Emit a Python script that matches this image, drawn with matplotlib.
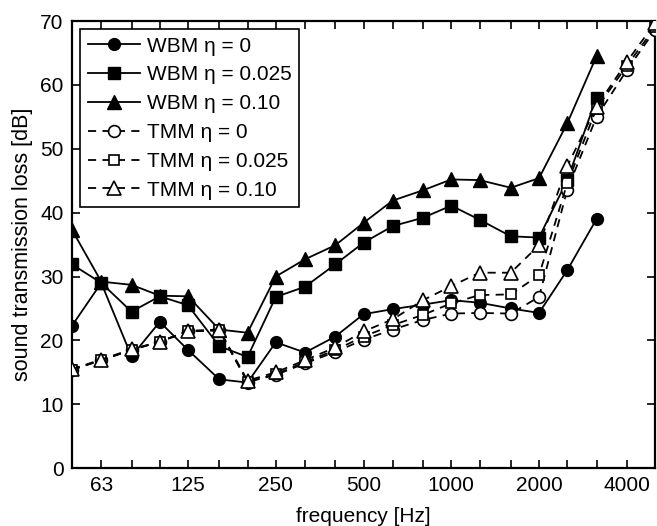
import matplotlib
matplotlib.use("Agg")
import matplotlib.pyplot as plt

plt.rcParams['font.family'] = ['Liberation Sans', 'DejaVu Sans']

freq = [50, 63, 80, 100, 125, 160, 200, 250, 315, 400, 500, 630, 800,
        1000, 1250, 1600, 2000, 2500, 3150, 4000, 5000]
tick_labels = {63: "63", 125: "125", 250: "250", 500: "500",
               1000: "1000", 2000: "2000", 4000: "4000"}

wbm_0 = [22.3, 29.0, 17.5, 22.9, 18.5, 13.9, 13.4, 19.7, 18.1, 20.6,
         24.1, 24.9, 25.6, 26.3, 25.9, 25.0, 24.3, 31.0, 39.0]
wbm_025 = [31.9, 29.0, 24.5, 26.9, 25.5, 19.1, 17.4, 26.8, 28.4, 31.9,
           35.3, 37.9, 39.2, 41.1, 38.9, 36.3, 36.1, 45.1, 58.0]
wbm_10 = [37.3, 29.2, 28.7, 27.0, 26.9, 21.7, 21.2, 30.0, 32.7, 34.9,
          38.4, 41.9, 43.5, 45.2, 45.1, 43.9, 45.4, 54.0, 64.5]
tmm_0 = [15.4, 16.9, 18.5, 19.8, 21.4, 21.6, 13.5, 14.6, 16.4, 18.2,
         20.1, 21.7, 23.2, 24.2, 24.3, 24.2, 26.8, 43.6, 55.0, 62.3, 68.6]
tmm_025 = [15.4, 16.9, 18.5, 19.8, 21.4, 21.6, 13.5, 14.7, 16.6, 18.5,
           20.6, 22.4, 24.0, 25.8, 27.1, 27.2, 30.2, 44.6, 56.3, 63.0, 69.0]
tmm_10 = [15.5, 17.0, 18.6, 19.8, 21.5, 21.7, 13.7, 15.0, 16.9, 18.9,
          21.4, 23.3, 26.3, 28.5, 30.6, 30.6, 34.9, 47.3, 56.6, 63.6, 69.7]

fig = plt.figure(figsize=(6.57, 5.26), dpi=100)
ax = fig.add_axes([0.1096, 0.110, 0.8874, 0.850])

n = len(wbm_0)
ms = 8.5
lw = 1.3
dash = (0, (4.5, 3.5))
ax.plot(freq[:n], wbm_0, '-', color='k', lw=lw, marker='o', ms=ms,
        mfc='k', mec='k', label='WBM η = 0', zorder=3)
ax.plot(freq[:n], wbm_025, '-', color='k', lw=lw, marker='s', ms=ms - 0.5,
        mfc='k', mec='k', label='WBM η = 0.025', zorder=3)
ax.plot(freq[:n], wbm_10, '-', color='k', lw=lw, marker='^', ms=ms + 1,
        mfc='k', mec='k', label='WBM η = 0.10', zorder=3)
ax.plot(freq, tmm_0, linestyle=dash, color='k', lw=lw, marker='o', ms=ms,
        mfc='white', mec='k', mew=1.2, label='TMM η = 0', zorder=4)
ax.plot(freq, tmm_025, linestyle=dash, color='k', lw=lw, marker='s', ms=ms - 1,
        mfc='white', mec='k', mew=1.2, label='TMM η = 0.025', zorder=4)
ax.plot(freq, tmm_10, linestyle=dash, color='k', lw=lw, marker='^', ms=ms + 1,
        mfc='white', mec='k', mew=1.2, label='TMM η = 0.10', zorder=4)

ax.set_xscale('log')
ax.set_xlim(50, 5000)
ax.set_ylim(0, 70)
ax.set_xticks(freq[1:-1])
ax.set_xticklabels([tick_labels.get(f, "") for f in freq[1:-1]])
ax.minorticks_off()
ax.set_yticks(range(0, 71, 10))
ax.tick_params(direction='in', top=True, right=True, length=6, width=1.2,
               labelsize=15, pad=6)
for s in ax.spines.values():
    s.set_linewidth(1.6)
ax.set_xlabel('frequency [Hz]', fontsize=15, labelpad=8)
ax.set_ylabel('sound transmission loss [dB]', fontsize=15.5, labelpad=5)

leg = ax.legend(loc='upper left', fontsize=15, fancybox=False, framealpha=1,
                edgecolor='k', borderaxespad=0.4, handlelength=2.5,
                labelspacing=0.47, borderpad=0.35, handletextpad=0.35)
leg.get_frame().set_linewidth(1.2)

fig.savefig('out.png', dpi=100)
